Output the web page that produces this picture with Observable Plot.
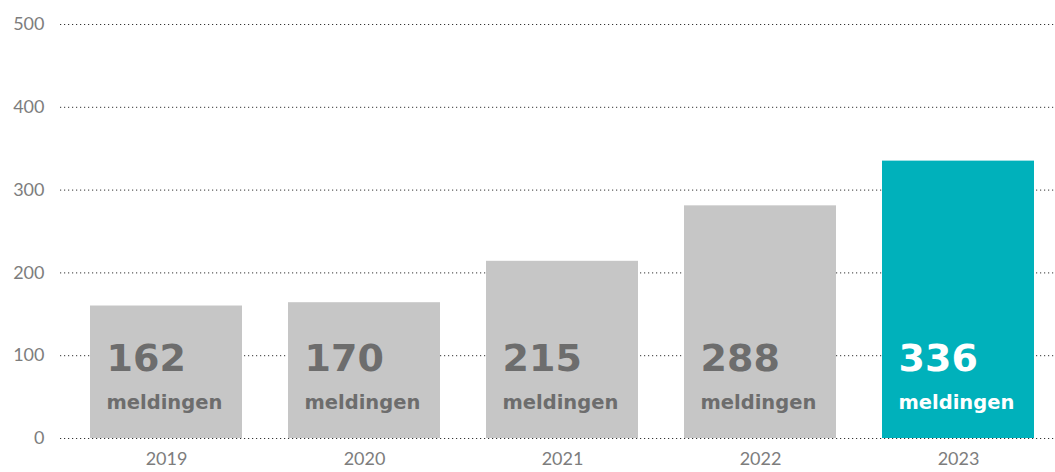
<!DOCTYPE html>
<html><head><meta charset="utf-8">
<script src="https://cdn.jsdelivr.net/npm/d3@7"></script>
<script src="https://cdn.jsdelivr.net/npm/@observablehq/plot@0.6"></script>
<style>body{margin:0;background:#fff}</style>
</head><body><div id="chart"></div>
<script>
const years = ["2019", "2020", "2021", "2022", "2023"];
const barValues = [160, 164, 214, 281, 335];
const labelValues = [162, 170, 215, 288, 336];
const unitLabel = "meldingen";
const yTicks = [0, 100, 200, 300, 400, 500];
const highlightYear = "2023";

const data = years.map((y, i) => ({year: y, value: barValues[i], label: String(labelValues[i]), unit: unitLabel}));
const barFill = d => d.year === highlightYear ? "#00b1bb" : "#c6c6c6";
const textFill = d => d.year === highlightYear ? "#ffffff" : "#6d6d6d";

const chart = Plot.plot({
  width: 1055,
  height: 472,
  marginLeft: 60,
  marginRight: 0,
  marginTop: 24,
  marginBottom: 34,
  style: {fontFamily: "Lato, sans-serif", fontSize: "18px", color: "#7d7d7d", background: "#fff"},
  x: {domain: years, paddingInner: 0.232, paddingOuter: 0.1286, align: 0.59, tickSize: 0, tickPadding: 14, label: null},
  y: {domain: [0, 500], ticks: yTicks, tickSize: 0, tickPadding: 16, label: null},
  color: {type: "identity"},
  marks: [
    Plot.ruleY(yTicks, {stroke: "#333", strokeWidth: 1, strokeDasharray: "1.2,2.8"}),
    Plot.barY(data, {x: "year", y: "value", fill: barFill}),
    Plot.text(data, {x: "year", y: () => 0, text: "label", fill: textFill, textAnchor: "start", dx: -60, dy: -80, fontSize: 38, fontWeight: 700, fontFamily: "DejaVu Sans"}),
    Plot.text(data, {x: "year", y: () => 0, text: "unit", fill: textFill, textAnchor: "start", dx: -60, dy: -36, fontSize: 19.5, fontWeight: 700, fontFamily: "DejaVu Sans"})
  ]
});
document.getElementById("chart").appendChild(chart);
</script>
</body></html>
